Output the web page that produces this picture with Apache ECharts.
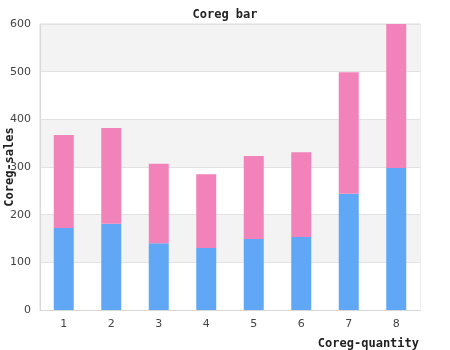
<!DOCTYPE html>
<html>
<head>
<meta charset="utf-8">
<script src="https://cdn.jsdelivr.net/npm/echarts@6/dist/echarts.min.js"></script>
<style>
  html, body { margin: 0; padding: 0; background: #fff; }
  #chart { width: 450px; height: 350px; }
</style>
</head>
<body>
<div id="chart"></div>
<script>
// data
var categories = ['1', '2', '3', '4', '5', '6', '7', '8'];
var lowerValues = [172, 181, 140, 130, 149, 153, 244, 298];
var upperValues = [195, 201, 167, 155, 174, 178, 255, 302];

var chart = echarts.init(document.getElementById('chart'), null, { renderer: 'canvas' });

var monoBold = {
  fontFamily: 'DejaVu Sans Mono',
  fontWeight: 'bold',
  fontSize: 12,
  color: '#222'
};

var option = {
  backgroundColor: '#ffffff',
  animation: false,
  title: {
    text: 'Coreg bar',
    left: 'center',
    top: 4,
    textStyle: monoBold
  },
  grid: {
    left: 40,
    right: 30,
    top: 24,
    bottom: 40,
    containLabel: false,
    outerBoundsMode: 'none',
    show: true,
    borderColor: '#dcdcdc',
    borderWidth: 1
  },
  xAxis: {
    type: 'category',
    data: categories,
    name: 'Coreg-quantity',
    nameLocation: 'end',
    nameGap: 0,
    nameMoveOverlap: false,
    nameTextStyle: Object.assign({}, monoBold, {
      align: 'right',
      verticalAlign: 'top',
      padding: [28, 1, 0, 0]
    }),
    axisLine: { lineStyle: { color: '#d8d8d8' } },
    axisTick: { show: false },
    axisLabel: {
      fontFamily: 'DejaVu Sans',
      fontSize: 11,
      color: '#444',
      margin: 9
    }
  },
  yAxis: {
    type: 'value',
    min: 0,
    max: 600,
    interval: 100,
    name: 'Coreg-sales',
    nameLocation: 'middle',
    nameGap: 24,
    nameMoveOverlap: false,
    nameTextStyle: monoBold,
    axisLine: { show: true, lineStyle: { color: '#d8d8d8' } },
    axisTick: { show: false },
    axisLabel: {
      fontFamily: 'DejaVu Sans',
      fontSize: 11,
      color: '#444',
      margin: 9
    },
    splitLine: { lineStyle: { color: '#e2e2e2' } },
    splitArea: {
      show: true,
      areaStyle: { color: ['#ffffff', '#f3f3f3'] }
    }
  },
  series: [
    {
      type: 'bar',
      stack: 'total',
      data: lowerValues,
      barWidth: 20,
      itemStyle: { color: '#60a8f5' }
    },
    {
      type: 'bar',
      stack: 'total',
      data: upperValues,
      barWidth: 20,
      itemStyle: { color: '#f283ba' }
    }
  ]
};

chart.setOption(option);
</script>
</body>
</html>
